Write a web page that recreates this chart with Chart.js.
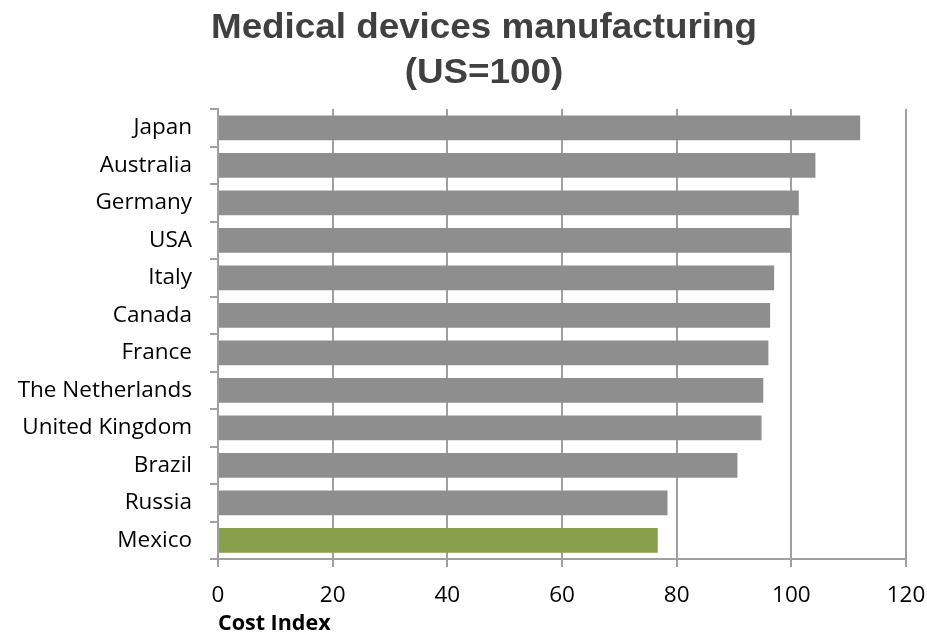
<!DOCTYPE html>
<html>
<head>
<meta charset="utf-8">
<script src="https://cdn.jsdelivr.net/npm/chart.js@4/dist/chart.umd.min.js"></script>
<style>
  body { margin: 0; background: #fff; }
</style>
</head>
<body>
<canvas id="costChart" width="927" height="637"></canvas>
<script>
    const countries = ['Japan', 'Australia', 'Germany', 'USA', 'Italy', 'Canada', 'France',
        'The Netherlands', 'United Kingdom', 'Brazil', 'Russia', 'Mexico'];
    const costIndex = [112.0, 104.2, 101.3, 100, 97.0, 96.3, 96.0, 95.1, 94.8, 90.6, 78.4, 76.7];
    const highlight = 'Mexico';
    const titleLines = ['Medical devices manufacturing', '(US=100)'];

    const gridGray = '#a0a0a0';
    const labelFont = { family: 'Open Sans', size: 22.5 };

    // title is drawn by hand so it can sit left of the plot centre
    const titlePlugin = {
        id: 'sheetTitle',
        afterDraw(chart) {
            const c = chart.ctx;
            c.save();
            c.fillStyle = '#404040';
            c.font = 'bold 35px "Liberation Sans", Arial, sans-serif';
            c.textAlign = 'center';
            c.textBaseline = 'alphabetic';
            const w = c.measureText(titleLines[0]).width;
            const sx = 546 / w;
            c.translate(484, 0);
            c.scale(sx, 1);
            c.fillText(titleLines[0], 0, 38);
            c.fillText(titleLines[1], 0, 83);
            c.restore();
        }
    };

    const ctx = document.getElementById('costChart').getContext('2d');
    const costChart = new Chart(ctx, {
        type: 'bar',
        data: {
            labels: countries,
            datasets: [{
                label: 'Cost Index',
                data: costIndex,
                backgroundColor: countries.map(c => c === highlight ? '#88a04b' : '#8e8e8e'),
                borderWidth: 0,
                categoryPercentage: 1,
                barPercentage: 0.66
            }]
        },
        options: {
            indexAxis: 'y',
            responsive: false,
            animation: false,
            layout: { padding: { top: 109, right: 21, left: 0, bottom: 0 } },
            plugins: {
                legend: { display: false },
                tooltip: { enabled: false }
            },
            scales: {
                x: {
                    min: 0,
                    max: 120,
                    afterFit(s) {
                        s.height = 78;
                        s.paddingLeft = 0;
                        s.paddingRight = 0;
                    },
                    ticks: { stepSize: 20, color: '#000', font: labelFont, padding: 15, maxRotation: 0 },
                    grid: { color: gridGray, lineWidth: 2, tickLength: 8 },
                    border: { color: gridGray, width: 2 },
                    title: {
                        display: true,
                        text: 'Cost Index',
                        align: 'start',
                        color: '#000',
                        font: { family: 'Open Sans', size: 21.5, weight: 'bold' },
                        padding: 0
                    }
                },
                y: {
                    afterFit(s) { s.width = 218; },
                    ticks: { color: '#000', font: labelFont, padding: 18 },
                    grid: { offset: true, drawOnChartArea: false, color: gridGray, lineWidth: 2, tickLength: 8 },
                    border: { color: gridGray, width: 2 }
                }
            }
        },
        plugins: [titlePlugin]
    });
</script>
</body>
</html>
